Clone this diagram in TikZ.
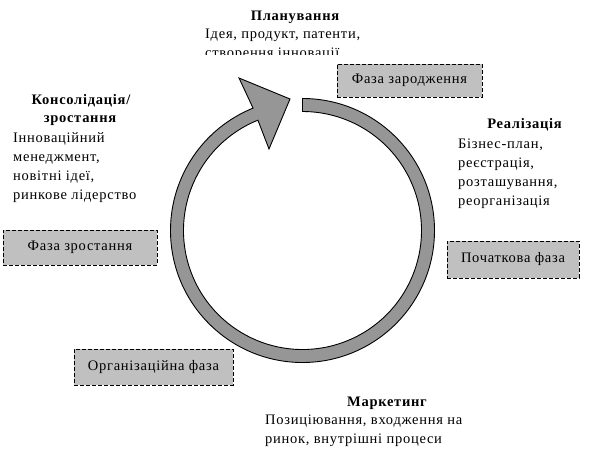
\documentclass[tikz,border=0pt]{standalone}
\usepackage{fontspec}
\setmainfont[LetterSpace=5]{Liberation Serif}
\usetikzlibrary{calc}
\definecolor{ringgray}{HTML}{969696}
\definecolor{boxgray}{HTML}{C0C0C0}
\begin{document}
\begin{tikzpicture}[x=1pt,y=-1pt,
  phase/.style={draw, dash pattern=on 4pt off 2pt, fill=boxgray, line width=0.9pt,
    inner sep=0pt, font=\fontsize{14.5}{15}\selectfont},
  head/.style={font=\bfseries\fontsize{14.5}{15}\selectfont, inner sep=0pt, anchor=base},
  body/.style={font=\fontsize{14.5}{15}\selectfont, inner sep=0pt, anchor=base west}]
\useasboundingbox (0,0) rectangle (605,460);
% ring arrow
\coordinate (c) at (302.5,230.5);
\filldraw[fill=ringgray, draw=black, line width=0.9pt]
  ($(c)+(-90:132)$) arc[start angle=-90, end angle=248, radius=132]
  -- (239,78) -- (290,99) -- (269,149)
  -- ($(c)+(248:119)$) arc[start angle=248, end angle=-90, radius=119] -- cycle;
% phase boxes
\node[phase, minimum width=145pt, minimum height=33pt] (b1) at (409.5,80.5) {Фаза зародження};
\node[phase, minimum width=132pt, minimum height=37pt] (b2) at (513,259.5) {Початкова фаза};
\node[phase, minimum width=159pt, minimum height=36pt] (b3) at (153.5,367) {Організаційна фаза};
\node[phase, minimum width=154pt, minimum height=35pt] (b4) at (80,247.5) {Фаза зростання};
% Planning
\node[head] (h1) at (295,21) {Планування};
\node[body] (p1) at (205,39) {Ідея, продукт, патенти,};
\begin{scope}
\clip (190,0) rectangle (400,55);
\node[body] (p2) at (205,58) {створення інновації};
\end{scope}
% Realisation
\node[head] (h2) at (524.5,128) {Реалізація};
\node[body] (r1) at (458,148) {Бізнес-план,};
\node[body] (r2) at (458,167) {реєстрація,};
\node[body] (r3) at (458,186) {розташування,};
\node[body] (r4) at (458,205) {реорганізація};
% Marketing
\node[head] (h3) at (387,406) {Маркетинг};
\node[body] (m1) at (265,424) {Позиціювання, входження на};
\node[body] (m2) at (265,443) {ринок, внутрішні процеси};
% Consolidation
\node[head] (h4) at (81,104) {Консолідація/};
\node[head] (h5) at (80,122) {зростання};
\node[body] (k1) at (13,142) {Інноваційний};
\node[body] (k2) at (13,161) {менеджмент,};
\node[body] (k3) at (13,180) {новітні ідеї,};
\node[body] (k4) at (13,199) {ринкове лідерство};
\end{tikzpicture}
\end{document}
